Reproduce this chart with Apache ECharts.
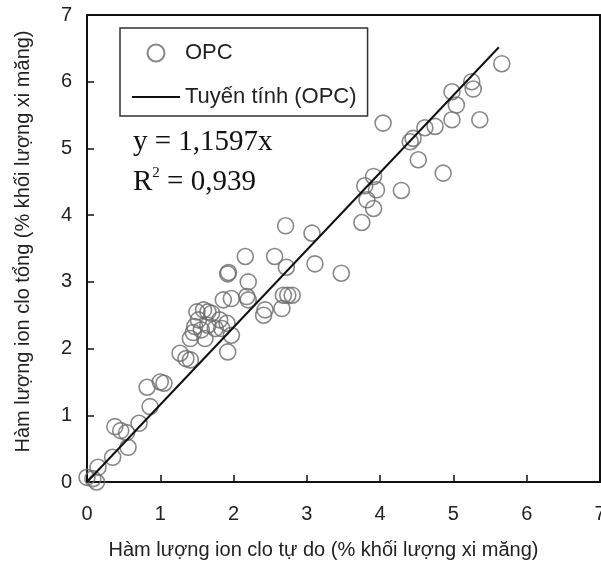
<!DOCTYPE html>
<html><head><meta charset="utf-8">
<script src="https://cdn.jsdelivr.net/npm/echarts@6/dist/echarts.min.js"></script>
<style>html,body{margin:0;padding:0;background:#fff}#c{width:601px;height:569px}</style>
</head><body><div id="c"></div>
<script>
// Data
const freeCl = [0.0,0.08,0.13,0.15,0.35,0.56,0.38,0.46,0.54,0.71,0.86,0.82,1.0,1.05,
  1.27,1.35,1.41,1.41,1.45,1.47,1.52,1.50,1.59,1.65,1.56,1.61,1.65,1.70,1.75,1.81,1.84,1.91,1.97,1.92,1.86,1.97,1.92,1.93,2.16,2.20,2.18,2.20,
  2.43,2.41,2.66,2.68,2.74,2.80,2.56,2.72,2.71,3.07,3.11,3.47,3.75,
  3.79,3.82,3.91,3.95,3.91,4.29,4.04,4.41,4.45,4.52,4.86,4.61,4.75,4.98,5.36,5.04,4.98,5.25,5.27,5.66];
const totalCl = [0.07,0.05,0.0,0.22,0.37,0.52,0.83,0.77,0.74,0.88,1.13,1.42,1.5,1.48,
  1.93,1.85,1.83,2.15,2.24,2.33,2.43,2.55,2.58,2.55,2.28,2.15,2.35,2.53,2.30,2.43,2.30,2.38,2.20,1.95,2.73,2.75,3.12,3.14,3.38,3.0,2.78,2.73,
  2.58,2.50,2.60,2.80,2.80,2.80,3.38,3.22,3.84,3.73,3.27,3.13,3.89,
  4.44,4.23,4.58,4.38,4.10,4.37,5.38,5.10,5.15,4.83,4.63,5.31,5.33,5.43,5.43,5.65,5.85,6.0,5.89,6.27];
const slope = 1.1597;
const fitX = [0, 5.62];
const tickLabels = ['0','1','2','3','4','5','6','7'];
const seriesNames = ['OPC', 'Tuyến tính (OPC)'];
const xTitle = 'Hàm lượng ion clo tự do (% khối lượng xi măng)';
const yTitle = 'Hàm lượng ion clo tổng (% khối lượng xi măng)';
const eqText = 'y = 1,1597x';
const r2Value = '0,939';

const scatterData = freeCl.map((x, i) => [x, totalCl[i]]);
const fitData = fitX.map(x => [x, slope * x]);

const chart = echarts.init(document.getElementById('c'), null, {renderer: 'canvas'});
const axisCommon = {
  type: 'value', min: 0, max: 7, interval: 1,
  axisLine: {show: true, lineStyle: {color: '#111', width: 2}},
  axisTick: {show: true, inside: true, length: 7, lineStyle: {color: '#111', width: 1.5}},
  splitLine: {show: false},
  axisLabel: {color: '#222', fontSize: 20, fontFamily: 'Liberation Sans',
    formatter: v => tickLabels[Math.round(v)]},
  nameLocation: 'middle',
  nameTextStyle: {color: '#222', fontSize: 20, fontFamily: 'Liberation Sans'}
};
chart.setOption({
  animation: false,
  backgroundColor: '#fff',
  grid: {left: 87, right: 1, top: 15, bottom: 87, show: true, borderColor: '#111', borderWidth: 2,
    containLabel: false, outerBoundsMode: 'none'},
  xAxis: Object.assign({}, axisCommon, {
    name: xTitle, nameGap: 58,
    axisLabel: Object.assign({}, axisCommon.axisLabel, {margin: 22}),
    nameTextStyle: Object.assign({}, axisCommon.nameTextStyle, {padding: [0, 40, 0, 0]})
  }),
  yAxis: Object.assign({}, axisCommon, {
    name: yTitle, nameGap: 54,
    axisLabel: Object.assign({}, axisCommon.axisLabel, {margin: 15}),
    nameTextStyle: Object.assign({}, axisCommon.nameTextStyle, {padding: [0, 0, 0, 14]})
  }),
  legend: {
    left: 120, top: 28, orient: 'vertical',
    padding: [14, 11, 8, 12],
    itemGap: 22, itemWidth: 48, itemHeight: 17,
    symbolKeepAspect: true,
    borderColor: '#333', borderWidth: 1.5,
    textStyle: {color: '#222', fontSize: 22, fontFamily: 'Liberation Sans'},
    data: [
      {name: seriesNames[0], icon: 'circle'},
      {name: seriesNames[1], icon: 'path://M0,0H48V2H0Z'}
    ]
  },
  graphic: [
    {type: 'text', left: 133, top: 128, style: {text: eqText, fill: '#111', font: '29px "Liberation Serif"'}},
    {type: 'text', left: 133, top: 166, style: {
      text: '{a|R}{s|2}{a| = ' + r2Value + '}', fill: '#111',
      rich: {
        a: {fontSize: 29, fontFamily: 'Liberation Serif', fill: '#111', verticalAlign: 'bottom'},
        s: {fontSize: 15, fontFamily: 'Liberation Serif', fill: '#111', verticalAlign: 'top', padding: [0, 0, 16, 0]}
      }}}
  ],
  series: [
    {
      name: seriesNames[0], type: 'scatter', data: scatterData,
      symbol: 'circle', symbolSize: 16,
      itemStyle: {color: 'rgba(255,255,255,0)', borderColor: '#6a6a6a', borderWidth: 1.6},
      z: 3
    },
    {
      name: seriesNames[1], type: 'line', data: fitData,
      symbol: 'none', showSymbol: false,
      lineStyle: {color: '#111', width: 2},
      itemStyle: {color: '#111'},
      z: 4
    }
  ]
});
</script></body></html>
